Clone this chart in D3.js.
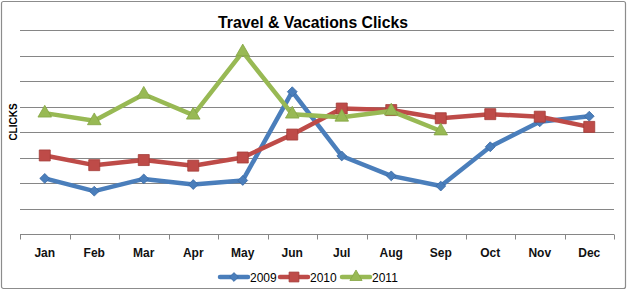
<!DOCTYPE html>
<html>
<head>
<meta charset="utf-8">
<script src="https://cdn.jsdelivr.net/npm/d3@7"></script>
<style>
  html, body { margin: 0; padding: 0; background: #fff; }
  svg { display: block; font-family: "Liberation Sans", Arial, sans-serif; }
</style>
</head>
<body>
<div id="chart"></div>
<script>
const months = ["Jan", "Feb", "Mar", "Apr", "May", "Jun", "Jul", "Aug", "Sep", "Oct", "Nov", "Dec"];
const clicks2009 = [109, 84, 108, 97, 105, 279, 153, 114, 94, 171, 220, 231];
const clicks2010 = [154, 135, 145, 134, 150, 195, 246, 243, 227, 235, 230, 210];
const clicks2011 = [237, 222, 274, 233, 357, 235, 229, 241, 202];
const seriesNames = ["2009", "2010", "2011"];
const gridTicks = [0, 50, 100, 150, 200, 250, 300, 350, 400];

const series = [
  { name: seriesNames[0], values: clicks2009, color: "#4a7ebb", dark: "#3a6aa5", symbol: d3.symbolDiamond2, size: 62 },
  { name: seriesNames[1], values: clicks2010, color: "#be4b48", dark: "#a33c39", symbol: d3.symbolSquare, size: 121 },
  { name: seriesNames[2], values: clicks2011, color: "#98b954", dark: "#84a443", symbol: d3.symbolTriangle, size: 80 }
];

const width = 629;
const height = 291;
const plot = { left: 20, right: 614, top: 30, bottom: 234 };

const svg = d3.select("#chart")
  .append("svg")
  .attr("width", width)
  .attr("height", height);

// outer chart border
svg.append("rect")
  .attr("x", 1.5).attr("y", 1.5)
  .attr("width", 624).attr("height", 287)
  .attr("rx", 2)
  .attr("fill", "#fff")
  .attr("stroke", "#8c8c8c")
  .attr("stroke-width", 1.2);

const x = d3.scaleBand().domain(months).range([plot.left, plot.right]);
const y = d3.scaleLinear().domain([0, 400]).range([plot.bottom, plot.top]);

// horizontal gridlines
svg.append("g")
  .selectAll("line")
  .data(gridTicks.slice(1))
  .join("line")
  .attr("x1", plot.left).attr("x2", plot.right)
  .attr("y1", (d) => Math.round(y(d)) + 0.5)
  .attr("y2", (d) => Math.round(y(d)) + 0.5)
  .attr("stroke", "#868686")
  .attr("stroke-width", 1);

// category axis
const xAxis = svg.append("g")
  .attr("transform", `translate(0, ${plot.bottom + 0.5})`);
xAxis.append("line")
  .attr("x1", plot.left).attr("x2", plot.right)
  .attr("stroke", "#868686");
xAxis.selectAll("line.tick")
  .data(months.concat(["end"]))
  .join("line")
  .attr("class", "tick")
  .attr("x1", (d, i) => Math.round(plot.left + i * x.step()) + 0.5)
  .attr("x2", (d, i) => Math.round(plot.left + i * x.step()) + 0.5)
  .attr("y1", 0).attr("y2", 5)
  .attr("stroke", "#868686");
xAxis.selectAll("text")
  .data(months)
  .join("text")
  .attr("x", (d) => x(d) + x.bandwidth() / 2)
  .attr("y", 22.5)
  .attr("text-anchor", "middle")
  .attr("font-size", 12)
  .attr("font-weight", "bold")
  .attr("fill", "#111")
  .text((d) => d);

// title
svg.append("text")
  .attr("x", 313)
  .attr("y", 28)
  .attr("text-anchor", "middle")
  .attr("font-size", 17)
  .attr("font-weight", "bold")
  .attr("textLength", 190)
  .attr("lengthAdjust", "spacingAndGlyphs")
  .attr("fill", "#000")
  .text("Travel & Vacations Clicks");

// y axis title
svg.append("text")
  .attr("transform", "translate(17, 122) rotate(-90)")
  .attr("text-anchor", "middle")
  .attr("font-size", 10)
  .attr("font-weight", "bold")
  .attr("fill", "#000")
  .text("CLICKS");

const line = d3.line()
  .x((d, i) => x(months[i]) + x.bandwidth() / 2)
  .y((d) => y(d));

series.forEach((s) => {
  const g = svg.append("g");
  g.append("path")
    .datum(s.values)
    .attr("d", line)
    .attr("fill", "none")
    .attr("stroke", s.color)
    .attr("stroke-width", 4.5)
    .attr("stroke-linejoin", "round")
    .attr("stroke-linecap", "round");
  g.selectAll("path.marker")
    .data(s.values)
    .join("path")
    .attr("class", "marker")
    .attr("transform", (d, i) => `translate(${x(months[i]) + x.bandwidth() / 2}, ${y(d)})`)
    .attr("d", d3.symbol().type(s.symbol).size(s.size))
    .attr("fill", s.color)
    .attr("stroke", s.dark)
    .attr("stroke-width", 0.8);
});

// legend
const legendX = [220, 280, 342];
const legend = svg.append("g").attr("transform", "translate(0, 277)");
series.forEach((s, i) => {
  const lx = legendX[i];
  legend.append("line")
    .attr("x1", lx).attr("x2", lx + 28)
    .attr("y1", 0).attr("y2", 0)
    .attr("stroke", s.color)
    .attr("stroke-width", 4.5)
    .attr("stroke-linecap", "round");
  legend.append("path")
    .attr("transform", `translate(${lx + 14}, 0)`)
    .attr("d", d3.symbol().type(s.symbol).size(s.size * 0.8))
    .attr("fill", s.color)
    .attr("stroke", s.dark)
    .attr("stroke-width", 0.8);
  legend.append("text")
    .attr("x", lx + 30)
    .attr("y", 4.5)
    .attr("font-size", 12)
    .attr("fill", "#000")
    .text(s.name);
});
</script>
</body>
</html>
